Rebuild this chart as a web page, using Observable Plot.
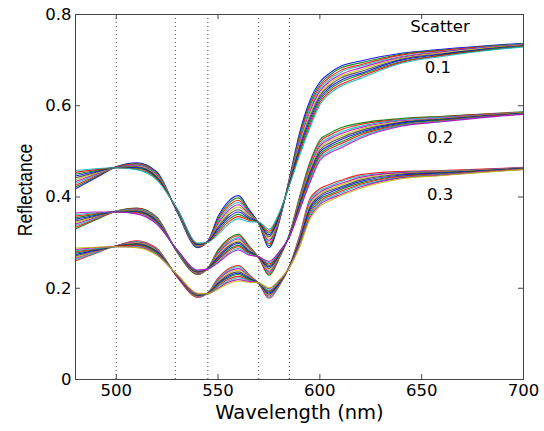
<!DOCTYPE html>
<html><head><meta charset="utf-8">
<script src="https://cdn.jsdelivr.net/npm/d3@7"></script>
<script src="https://cdn.jsdelivr.net/npm/@observablehq/plot@0.6"></script>
<style>html,body{margin:0;padding:0;background:#fff;}</style>
</head><body><div id="chart"></div>
<script>
// wavelengths (nm) at which the curves were read
const wavelengths = [480,490,500,510,520,530,540,545,550,555,560,565,570,575,580,585,590,595,600,605,610,620,640,660,680,700];

// each row: reflectance of the 11 curves of a scatter group at one wavelength
const scatter01 = [
[.418,.422,.426,.430,.434,.438,.442,.446,.450,.454,.458],
[.442,.444,.446,.448,.450,.452,.454,.456,.458,.460,.462],
[.466,.466,.466,.465,.465,.465,.465,.465,.464,.464,.464],
[.475,.4735,.472,.4705,.469,.4675,.466,.4645,.463,.4615,.460],
[.455,.453,.451,.450,.448,.446,.444,.442,.441,.439,.437],
[.366,.367,.368,.368,.369,.370,.371,.372,.372,.373,.374],
[.289,.290,.291,.292,.293,.294,.295,.296,.297,.298,.299],
[.303,.303,.303,.302,.302,.302,.302,.302,.301,.301,.301],
[.357,.353,.349,.345,.341,.338,.334,.330,.326,.322,.318],
[.390,.385,.380,.375,.370,.365,.360,.355,.350,.345,.340],
[.403,.398,.393,.388,.383,.378,.372,.367,.362,.357,.352],
[.374,.371,.368,.366,.363,.360,.357,.354,.352,.349,.346],
[.342,.342,.343,.343,.343,.3435,.344,.344,.344,.345,.345],
[.289,.293,.297,.301,.305,.309,.313,.317,.321,.325,.329],
[.345,.347,.349,.351,.353,.355,.357,.359,.361,.363,.365],
[.440,.4385,.437,.4355,.434,.4325,.431,.4295,.428,.4265,.425],
[.540,.535,.530,.525,.520,.515,.510,.505,.500,.495,.490],
[.610,.604,.598,.592,.586,.580,.574,.568,.562,.556,.550],
[.652,.647,.642,.637,.632,.627,.622,.617,.612,.607,.602],
[.672,.6675,.663,.6585,.654,.6495,.645,.6405,.636,.6315,.627],
[.686,.682,.677,.673,.668,.664,.660,.655,.651,.646,.642],
[.698,.694,.690,.687,.683,.679,.675,.671,.668,.664,.660],
[.715,.713,.711,.708,.706,.704,.702,.700,.697,.695,.693],
[.724,.722,.721,.719,.718,.716,.714,.713,.711,.710,.708],
[.731,.730,.729,.728,.727,.7255,.724,.723,.722,.721,.720],
[.737,.736,.735,.735,.734,.733,.732,.731,.731,.730,.729]
];
const scatter02 = [
[.330,.3335,.337,.3405,.344,.3475,.351,.3545,.358,.3615,.365],
[.350,.352,.353,.355,.357,.3585,.360,.362,.364,.365,.367],
[.369,.369,.369,.368,.368,.368,.368,.368,.367,.367,.367],
[.376,.375,.3735,.372,.371,.3695,.368,.367,.3655,.364,.363],
[.356,.354,.353,.351,.350,.348,.346,.345,.343,.342,.340],
[.278,.279,.279,.280,.280,.281,.282,.282,.283,.283,.284],
[.230,.231,.232,.233,.234,.235,.236,.237,.238,.239,.240],
[.244,.244,.244,.243,.243,.243,.243,.243,.242,.242,.242],
[.284,.281,.278,.276,.273,.270,.267,.264,.262,.259,.256],
[.308,.305,.301,.298,.294,.291,.288,.284,.281,.277,.274],
[.318,.315,.311,.308,.304,.301,.298,.294,.291,.287,.284],
[.294,.292,.290,.288,.286,.2835,.281,.279,.277,.275,.273],
[.267,.267,.2675,.2675,.268,.268,.268,.2685,.2685,.269,.269],
[.228,.231,.234,.237,.240,.2435,.247,.250,.253,.256,.259],
[.265,.2665,.268,.2695,.271,.2725,.274,.2755,.277,.2785,.280],
[.318,.317,.317,.316,.316,.315,.314,.314,.313,.313,.312],
[.400,.397,.394,.391,.388,.385,.382,.379,.376,.373,.370],
[.475,.4705,.466,.4615,.457,.4525,.448,.4435,.439,.4345,.430],
[.525,.5205,.516,.5115,.507,.5025,.498,.4935,.489,.4845,.480],
[.540,.536,.531,.527,.523,.5185,.514,.510,.506,.501,.497],
[.551,.547,.542,.538,.533,.529,.525,.520,.516,.511,.507],
[.562,.559,.555,.552,.549,.5455,.542,.539,.536,.532,.529],
[.572,.570,.569,.567,.565,.5635,.562,.560,.558,.557,.555],
[.577,.576,.575,.573,.572,.571,.570,.569,.567,.566,.565],
[.582,.581,.580,.580,.579,.578,.577,.576,.576,.575,.574],
[.587,.586,.586,.585,.585,.584,.583,.583,.582,.582,.581]
];
const scatter03 = [
[.260,.263,.266,.268,.271,.274,.277,.280,.282,.285,.288],
[.277,.278,.280,.281,.282,.2835,.285,.286,.287,.289,.290],
[.293,.293,.293,.292,.292,.292,.292,.292,.291,.291,.291],
[.304,.3025,.301,.2995,.298,.2965,.295,.2935,.292,.2905,.289],
[.287,.2855,.284,.2825,.281,.2795,.278,.2765,.275,.2735,.272],
[.224,.225,.225,.226,.226,.227,.228,.228,.229,.229,.230],
[.180,.181,.182,.183,.184,.1845,.185,.186,.187,.188,.189],
[.190,.190,.190,.189,.189,.189,.189,.189,.188,.188,.188],
[.222,.220,.217,.215,.212,.210,.208,.205,.203,.200,.198],
[.242,.239,.236,.2325,.229,.226,.223,.2195,.216,.213,.210],
[.250,.247,.243,.240,.236,.233,.230,.226,.223,.219,.216],
[.231,.229,.227,.226,.224,.222,.220,.218,.217,.215,.213],
[.210,.210,.2105,.2105,.211,.211,.211,.2115,.2115,.212,.212],
[.178,.180,.183,.185,.187,.1895,.192,.194,.196,.199,.201],
[.205,.206,.208,.209,.210,.2115,.213,.214,.215,.217,.218],
[.248,.248,.247,.247,.247,.2465,.246,.246,.246,.245,.245],
[.315,.3125,.310,.3075,.305,.3025,.300,.2975,.295,.2925,.290],
[.395,.3905,.386,.3815,.377,.3725,.368,.3635,.359,.3545,.350],
[.418,.414,.410,.407,.403,.399,.395,.391,.388,.384,.380],
[.428,.424,.421,.417,.414,.410,.406,.403,.399,.396,.392],
[.436,.433,.429,.426,.422,.419,.416,.412,.409,.405,.402],
[.449,.446,.443,.440,.437,.434,.431,.428,.425,.422,.419],
[.456,.454,.453,.451,.450,.448,.446,.445,.443,.442,.440],
[.458,.457,.456,.455,.454,.4525,.451,.450,.449,.448,.447],
[.461,.460,.460,.459,.458,.4575,.457,.456,.455,.455,.454],
[.465,.4645,.464,.4635,.463,.4625,.462,.4615,.461,.4605,.460]
];

const lineColors = ["#0000ff","#008000","#ff0000","#00bfbf","#bf00bf","#bfbf00","#404040"];
const colorStart = [0, 1, 2];
const markerWavelengths = [500, 529, 545, 570, 585];
const xTicks = [500, 550, 600, 650, 700];
const yTicks = [0, 0.2, 0.4, 0.6, 0.8];
const annotText = ["Scatter", "0.1", "0.2", "0.3"];
const annotWl = [659, 658, 659, 659];
const annotRefl = [0.774, 0.683, 0.529, 0.404];

const groups = [scatter01, scatter02, scatter03];
const rows = [];
groups.forEach((g, gi) => {
  const n = g[0].length;
  for (let k = 0; k < n; k++) {
    g.forEach((row, i) => rows.push({wl: wavelengths[i], r: row[k], id: gi * 100 + k,
      color: lineColors[(colorStart[gi] + k) % lineColors.length]}));
  }
});

const W = 544, H = 431, mt = 14, mb = 52, ml = 75, mr = 21;
const ph = H - mt - mb, pw = W - ml - mr;
const axisColor = "#444";

const chart = Plot.plot({
  width: W, height: H,
  marginTop: mt, marginBottom: mb, marginLeft: ml, marginRight: mr,
  style: {fontFamily: "'DejaVu Sans', sans-serif", fontSize: "16.5px", background: "#fff", color: "#000"},
  x: {domain: [480, 700]},
  y: {domain: [0, 0.8]},
  color: {type: "identity"},
  marks: [
    Plot.ruleX(markerWavelengths, {x: d => d, stroke: "#444", strokeDasharray: "1,3", strokeWidth: 1}),
    Plot.line(rows, {x: "wl", y: "r", z: "id", stroke: "color", strokeWidth: 1.1, strokeOpacity: 0.9, curve: "monotone-x"}),
    Plot.tickX(xTicks, {x: d => d, insetTop: ph - 5, stroke: axisColor}),
    Plot.tickX(xTicks, {x: d => d, insetBottom: ph - 5, stroke: axisColor}),
    Plot.tickY(yTicks, {y: d => d, insetRight: pw - 5, stroke: axisColor}),
    Plot.tickY(yTicks, {y: d => d, insetLeft: pw - 5, stroke: axisColor}),
    Plot.frame({stroke: axisColor}),
    Plot.axisX(xTicks, {tickSize: 0, tickPadding: 5, label: null}),
    Plot.axisY(yTicks, {tickSize: 0, tickPadding: 4, label: null, tickFormat: d => d === 0 ? "0" : d.toFixed(1)}),
    Plot.text(["Wavelength (nm)"], {frameAnchor: "bottom", textAnchor: "middle", lineAnchor: "middle", dy: 33, fontSize: 19.5}),
    Plot.text(["Reflectance"], {frameAnchor: "left", textAnchor: "middle", lineAnchor: "middle", dx: -50, dy: -7, rotate: -90,
      fontSize: 17.5, fontFamily: "'Liberation Sans', Arial, sans-serif", className: "ylab"}),
    Plot.text(annotText, {x: (d, i) => annotWl[i], y: (d, i) => annotRefl[i], text: d => d, fontSize: 16.5})
  ]
});
// the reference figure is stretched horizontally: widen the rotated label's glyphs
d3.select(chart).selectAll("g.ylab text").attr("transform", function() {
  return (d3.select(this).attr("transform") || "") + " scale(1,1.2)";
});
document.getElementById("chart").appendChild(chart);
</script>
</body></html>
